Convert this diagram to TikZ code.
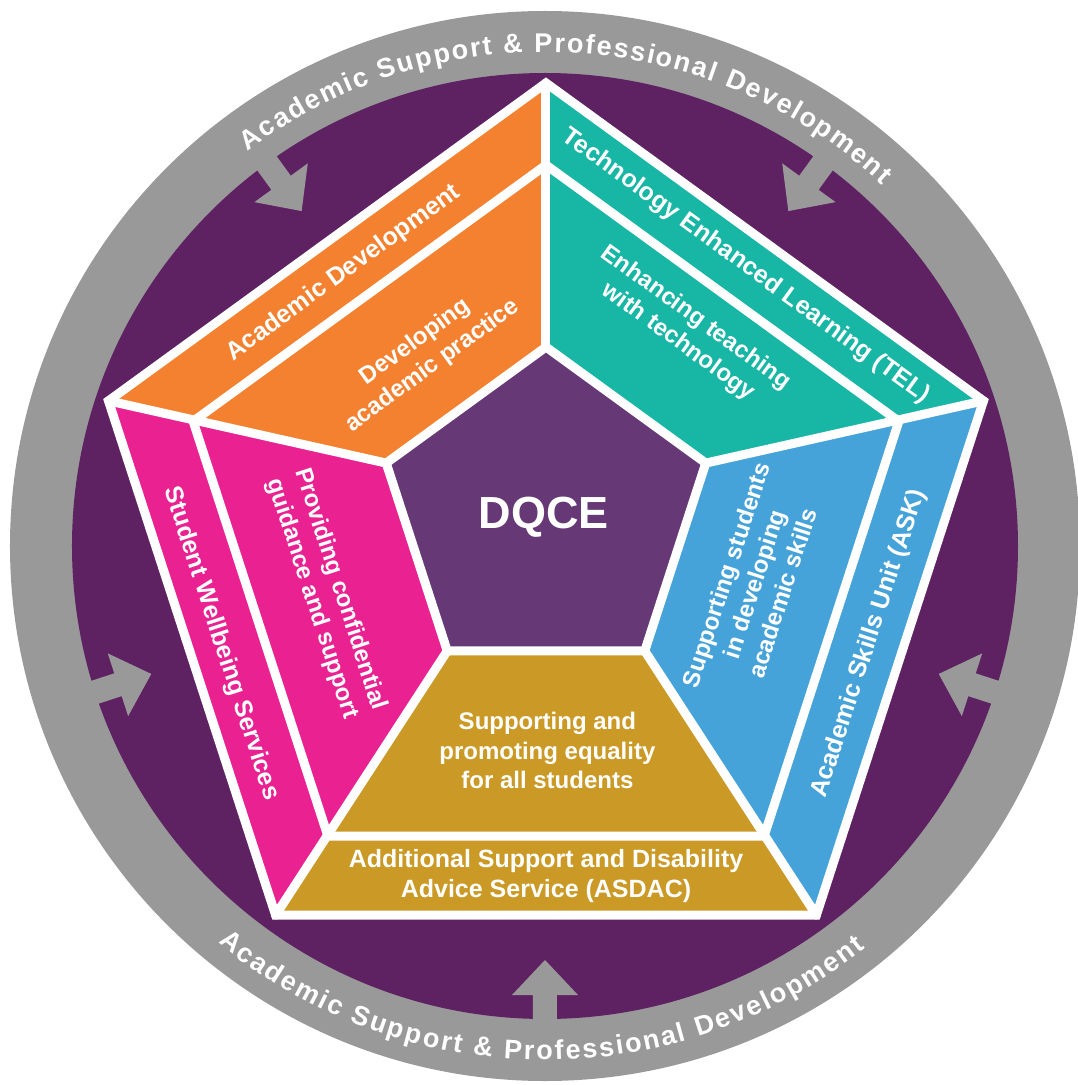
\documentclass[tikz,border=0pt]{standalone}
\usepackage{fontspec}
\setmainfont{Liberation Sans}
\usepackage{tikz, tkz-euclide}
\usetikzlibrary{decorations.text}

\definecolor{ringgrey}{HTML}{999999}
\definecolor{deeppurple}{HTML}{5E2262}
\definecolor{corepurple}{HTML}{663876}
\definecolor{acorange}{HTML}{F48130}
\definecolor{telteal}{HTML}{18B6A5}
\definecolor{swspink}{HTML}{E92191}
\definecolor{askblue}{HTML}{46A3D9}
\definecolor{asdacgold}{HTML}{CB9925}

\begin{document}
\begin{tikzpicture}[x=1pt, y=1pt,
    divider/.style={draw=white, line width=9pt, line join=miter},
    bandtext/.style={text=white, align=center, font=\bfseries\fontsize{25}{29.5}\selectfont},
    hubtext/.style={text=white, align=center, font=\bfseries\fontsize{24}{29.5}\selectfont},
    ringtext/.style={decorate, decoration={text along path, text color=white,
        text align={fit to path}, text={|\bfseries\fontsize{27}{27}\selectfont|#1}}},
    inarrow/.pic={\fill[ringgrey] (482,-12) -- (449,-12) -- (449,-33) -- (414,0)
        -- (449,33) -- (449,12) -- (482,12) -- cycle;}]
    \useasboundingbox (-545,-539) rectangle (532,546);
    % ring and arrows
    \fill[ringgrey] (0,0) circle[radius=535];
    \fill[deeppurple] (0,0) circle[radius=473];
    \pic[rotate=54] {inarrow};
    \pic[rotate=126] {inarrow};
    \pic[rotate=198] {inarrow};
    \pic[rotate=270] {inarrow};
    \pic[rotate=342] {inarrow};
    \path[ringtext={Academic Support {\&} Professional Development}]
        (127:494) arc[start angle=127, end angle=47, radius=494];
    \path[ringtext={Academic Support {\&} Professional Development}]
        (230.5:514) arc[start angle=230.5, end angle=308.5, radius=514];
    % pentagons
    \tkzDefPoints{1/3/O, 1/10/M, 1/31/I}
    \tkzDefShiftPoint[O](90:460){O1}
    \tkzDefShiftPoint[O](162:460){O2}
    \tkzDefShiftPoint[O](234:460){O3}
    \tkzDefShiftPoint[O](306:460){O4}
    \tkzDefShiftPoint[O](18:460){O5}
    \tkzDefShiftPoint[M](90:371){M1}
    \tkzDefShiftPoint[M](162:371){M2}
    \tkzDefShiftPoint[M](234:371){M3}
    \tkzDefShiftPoint[M](306:371){M4}
    \tkzDefShiftPoint[M](18:371){M5}
    \tkzDefShiftPoint[I](90:168){I1}
    \tkzDefShiftPoint[I](162:168){I2}
    \tkzDefShiftPoint[I](234:168){I3}
    \tkzDefShiftPoint[I](306:168){I4}
    \tkzDefShiftPoint[I](18:168){I5}
    \fill[acorange] (O1) -- (O2) -- (M2) -- (M1) -- cycle;
    \fill[acorange] (M1) -- (M2) -- (I2) -- (I1) -- cycle;
    \fill[swspink] (O2) -- (O3) -- (M3) -- (M2) -- cycle;
    \fill[swspink] (M2) -- (M3) -- (I3) -- (I2) -- cycle;
    \fill[asdacgold] (O3) -- (O4) -- (M4) -- (M3) -- cycle;
    \fill[asdacgold] (M3) -- (M4) -- (I4) -- (I3) -- cycle;
    \fill[askblue] (O4) -- (O5) -- (M5) -- (M4) -- cycle;
    \fill[askblue] (M4) -- (M5) -- (I5) -- (I4) -- cycle;
    \fill[telteal] (O5) -- (O1) -- (M1) -- (M5) -- cycle;
    \fill[telteal] (M5) -- (M1) -- (I1) -- (I5) -- cycle;
    \fill[corepurple] (I1) -- (I2) -- (I3) -- (I4) -- (I5) -- cycle;
    \draw[divider] (O1) -- (O2) -- (O3) -- (O4) -- (O5) -- cycle;
    \draw[divider] (M1) -- (M2) -- (M3) -- (M4) -- (M5) -- cycle;
    \draw[divider] (I1) -- (I2) -- (I3) -- (I4) -- (I5) -- cycle;
    \tkzDrawSegments[divider](O1,I1 O2,I2 O3,I3 O4,I4 O5,I5)
    % labels
    \node[text=white, font=\bfseries\fontsize{45}{45}\selectfont] (dqce) at (-1,29) {DQCE};
    \node[bandtext, rotate=36] (acdev) at (-201.5,273) {Academic Development};
    \node[hubtext, rotate=36] (devprac) at (-121,192) {Developing\\academic practice};
    \node[bandtext, rotate=-36] (tel) at (201,280) {Technology Enhanced Learning (TEL)};
    \node[hubtext, rotate=-36] (enhtech) at (142,216) {Enhancing teaching\\with technology};
    \node[bandtext, rotate=-72] (wellbeing) at (-324,-97.6) {Student Wellbeing Services};
    \node[hubtext, rotate=-72] (guidance) at (-219,-48) {Providing confidential\\guidance and support};
    \node[bandtext, rotate=72] (ask) at (324,-97.5) {Academic Skills Unit (ASK)};
    \node[hubtext, rotate=72] (acskills) at (209,-38) {Supporting students\\in developing\\academic skills};
    \node[hubtext] (equality) at (2.4,-204.7) {Supporting and\\promoting equality\\for all students};
    \node[bandtext] (asdac) at (1,-330) {Additional Support and Disability\\Advice Service (ASDAC)};
\end{tikzpicture}
\end{document}
